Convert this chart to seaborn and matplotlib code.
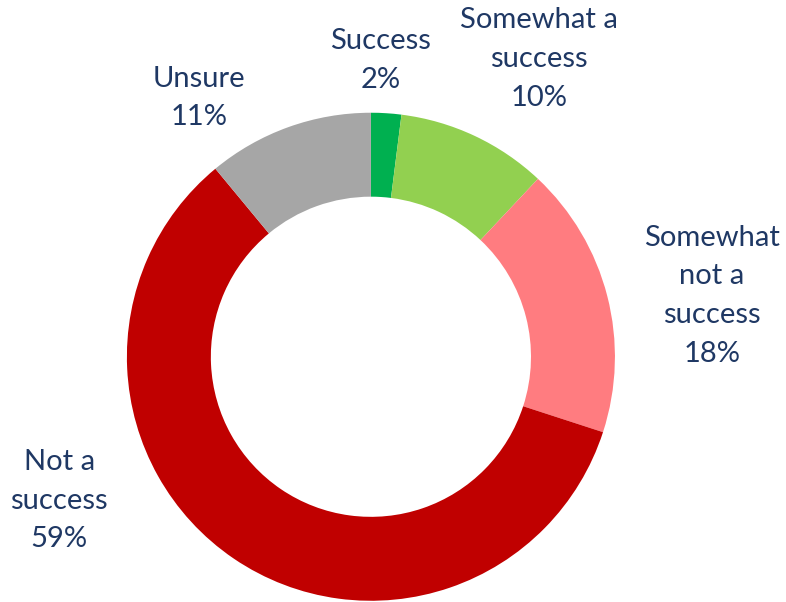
import matplotlib
matplotlib.use("Agg")
import matplotlib.pyplot as plt
import seaborn as sns
import numpy as np

sns.set_theme(style="white")
plt.rcParams['font.family'] = ['Lato', 'DejaVu Sans']

categories = ["Success", "Somewhat a\nsuccess", "Somewhat\nnot a\nsuccess", "Not a\nsuccess", "Unsure"]
values = [2, 10, 18, 59, 11]
colors = ["#00B050", "#92D050", "#FF7C80", "#C00000", "#A6A6A6"]
# label anchor positions (in units of outer radius)
label_pos = [(0.04, 1.215), (0.69, 1.22), (1.398, 0.25), (-1.277, -0.59), (-0.705, 1.06)]

fig = plt.figure(figsize=(7.86, 6.02), dpi=100)
ax = fig.add_axes([0, 0, 1, 1])
ax.pie(values, colors=colors, startangle=90, counterclock=False,
       wedgeprops=dict(width=0.344, edgecolor='none'), radius=1.0)
for cat, v, (x, y) in zip(categories, values, label_pos):
    ax.text(x, y, f"{cat}\n{v}%", ha='center', va='center', fontsize=21,
            color="#1F3864", linespacing=1.6)
ax.set_xlim(-1.520, 1.701)
ax.set_ylim(-1.005, 1.462)
ax.set_aspect('equal')
ax.axis('off')
fig.savefig("out.png", dpi=100)
